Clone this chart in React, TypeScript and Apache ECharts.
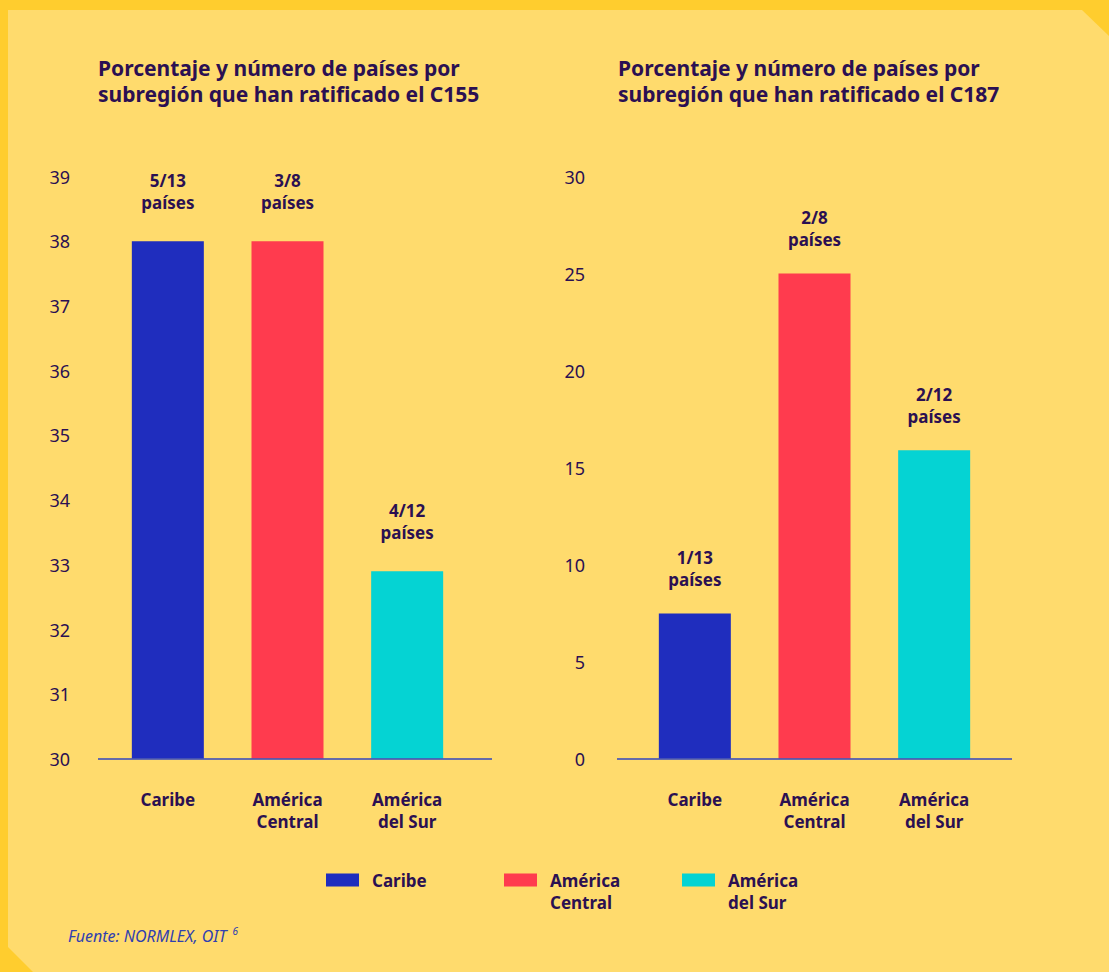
import React, { useEffect, useRef } from "react";
import * as echarts from "echarts";

const categories = ["Caribe", "América\nCentral", "América\ndel Sur"];
const seriesNames = ["Caribe", "América Central", "América del Sur"];
const legendLabels = ["Caribe", "\nAmérica\nCentral", "\nAmérica\ndel Sur"];
const colors = ["#1F2DBE", "#FF3B4E", "#05D3D3"];

const c155Values = [38, 38, 32.9];
const c155Labels = ["5/13\npaíses", "3/8\npaíses", "4/12\npaíses"];
const c187Values = [7.5, 25, 15.9];
const c187Labels = ["1/13\npaíses", "2/8\npaíses", "2/12\npaíses"];

const title155 = "Porcentaje y número de países por\nsubregión que han ratificado el C155";
const title187 = "Porcentaje y número de países por\nsubregión que han ratificado el C187";
const sourceText = "Fuente: NORMLEX, OIT {s|6}";

const TEXT = "#2B1052";
const FONT = "Noto Sans";

export default function App() {
  const ref = useRef<HTMLDivElement>(null);
  useEffect(() => {
    document.body.style.margin = "0";
    const chart = echarts.init(ref.current!, null, { renderer: "svg" });

    const labelStyle = {
      show: true,
      position: "top",
      color: TEXT,
      fontFamily: FONT,
      fontWeight: "bold",
      fontSize: 17,
      lineHeight: 22,
    };

    const makeSeries = (values: number[], labels: string[], gi: number, dist: number) =>
      seriesNames.map((name, i) => ({
        name,
        type: "bar",
        xAxisIndex: gi,
        yAxisIndex: gi,
        barWidth: 72,
        barGap: "-100%",
        itemStyle: { color: colors[i] },
        label: {
          ...labelStyle,
          distance: dist,
          formatter: () => labels[i],
        },
        data: values.map((v, j) => (j === i ? v : "-")),
      }));

    const xAxisCommon = {
      type: "category",
      data: categories,
      axisLine: { show: false },
      axisTick: { show: false },
      axisLabel: {
        color: TEXT,
        fontFamily: FONT,
        fontWeight: "bold",
        fontSize: 17,
        lineHeight: 22,
        margin: 29,
        interval: 0,
      },
    };
    const yLabel = { color: TEXT, fontFamily: FONT, fontSize: 18 };
    const titleStyle = { color: TEXT, fontFamily: FONT, fontWeight: "bold", fontSize: 21, lineHeight: 26 };

    chart.setOption({
      animation: false,
      backgroundColor: "#FFCD2E",
      textStyle: { fontFamily: FONT },
      title: [
        { text: title155, left: 98, top: 55, padding: 0, textStyle: titleStyle },
        { text: title187, left: 618, top: 55, padding: 0, textStyle: titleStyle },
        {
          text: sourceText,
          left: 68,
          top: 926,
          padding: 0,
          textStyle: {
            color: "#3040B0",
            fontFamily: FONT,
            fontStyle: "italic",
            fontWeight: "normal",
            fontSize: 16,
            rich: {
              s: {
                fontSize: 10,
                verticalAlign: "top",
                padding: [0, 0, 9, 2],
                color: "#3040B0",
                fontStyle: "italic",
                fontFamily: FONT,
              },
            },
          },
        },
      ],
      legend: {
        left: 326,
        top: 847,
        padding: 0,
        icon: "rect",
        itemWidth: 33,
        itemHeight: 13,
        itemGap: 22,
        selectedMode: false,
        textStyle: {
          color: TEXT,
          fontFamily: FONT,
          fontWeight: "bold",
          fontSize: 17,
          lineHeight: 22,
          width: 110,
          padding: [0, 0, 0, 8],
        },
        data: seriesNames,
        formatter: (name: string) => legendLabels[seriesNames.indexOf(name)],
      },
      grid: [
        { left: 108, width: 359, top: 176.5, height: 582.5 },
        { left: 635, width: 359, top: 176.5, height: 582.5 },
      ],
      xAxis: [
        { ...xAxisCommon, gridIndex: 0 },
        { ...xAxisCommon, gridIndex: 1 },
      ],
      yAxis: [
        {
          type: "value",
          gridIndex: 0,
          min: 30,
          max: 39,
          interval: 1,
          axisLine: { show: false },
          axisTick: { show: false },
          splitLine: { show: false },
          axisLabel: { ...yLabel, margin: 38 },
        },
        {
          type: "value",
          gridIndex: 1,
          min: 0,
          max: 30,
          interval: 5,
          axisLine: { show: false },
          axisTick: { show: false },
          splitLine: { show: false },
          axisLabel: { ...yLabel, margin: 50 },
        },
      ],
      graphic: [
        {
          type: "polygon",
          z: -10,
          silent: true,
          shape: {
            points: [
              [8, 10],
              [1082, 10],
              [1109, 36],
              [1109, 972],
              [33, 972],
              [8, 947],
            ],
          },
          style: { fill: "#FFDB6D" },
        },
        {
          type: "line",
          z: 100,
          silent: true,
          shape: { x1: 98, y1: 759, x2: 492, y2: 759 },
          style: { stroke: "#4A57B4", lineWidth: 2, opacity: 0.85 },
        },
        {
          type: "line",
          z: 100,
          silent: true,
          shape: { x1: 617, y1: 759, x2: 1012, y2: 759 },
          style: { stroke: "#4A57B4", lineWidth: 2, opacity: 0.85 },
        },
      ],
      series: [
        ...makeSeries(c155Values, c155Labels, 0, 28),
        ...makeSeries(c187Values, c187Labels, 1, 23),
      ],
    });
    return () => chart.dispose();
  }, []);
  return (
    <div
      ref={ref}
      style={{ position: "absolute", left: 0, top: 0, width: 1109, height: 972 }}
    />
  );
}
